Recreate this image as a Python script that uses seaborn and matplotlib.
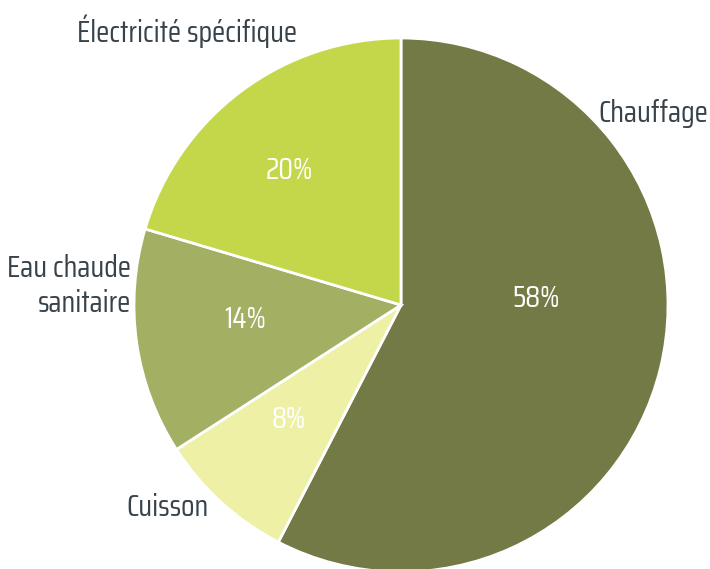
import matplotlib
matplotlib.use("Agg")
import matplotlib.pyplot as plt
from matplotlib import font_manager
import seaborn as sns

# ─── Data ─────────────────────────────────────────────────────────────────────
categories = ["Chauffage", "Cuisson", "Eau chaude\nsanitaire", "Électricité spécifique"]
shares     = [57.6, 8.3, 13.7, 20.4]
colors     = ["#737a45", "#eef0a6", "#a3af62", "#c4d74b"]

# ─── Style ────────────────────────────────────────────────────────────────────
sns.set_theme(style="white")
installed = {f.name for f in font_manager.fontManager.ttflist}
candidates = ["Agency FB", "Saira Extra Condensed", "Saira Condensed",
              "Pathway Gothic One", "Barlow Condensed"]
family = next((c for c in candidates if c in installed), "DejaVu Sans")
plt.rcParams["font.family"] = [family, "DejaVu Sans"]

TEXT = "#37424a"
W, H = 710, 569
FS = 22

fig = plt.figure(figsize=(W / 100, H / 100), dpi=100)
ax = fig.add_axes([0, 0, 1, 1])

palette = sns.color_palette(colors)
wedges, texts, autotexts = ax.pie(
    shares, labels=categories, colors=palette,
    startangle=90, counterclock=False,
    center=(401, H - 305), radius=267, frame=True,
    autopct="%.0f%%", pctdistance=0.6, labeldistance=1.1,
    wedgeprops=dict(edgecolor="white", linewidth=2),
    textprops=dict(fontsize=FS),
)
ax.set_xlim(0, W)
ax.set_ylim(0, H)
ax.axis("off")

# label placement (pixel coords, origin bottom-left)
label_pos = [(598, H - 113, "left"), (168, H - 507, "center"),
             (131, H - 286, "right"), (187, H - 31, "center")]
for t, (x, y, ha) in zip(texts, label_pos):
    t.set_position((x, y))
    t.set_ha(ha)
    t.set_va("center")
    t.set_color(TEXT)
    t.set_linespacing(1.25)

pct_pos = [(536, H - 298), (289, H - 420), (245, H - 320), (289, H - 170)]
for t, (x, y) in zip(autotexts, pct_pos):
    t.set_position((x, y))
    t.set_ha("center")
    t.set_va("center")
    t.set_color("white")

plt.savefig("out.png", dpi=100)
plt.close()
